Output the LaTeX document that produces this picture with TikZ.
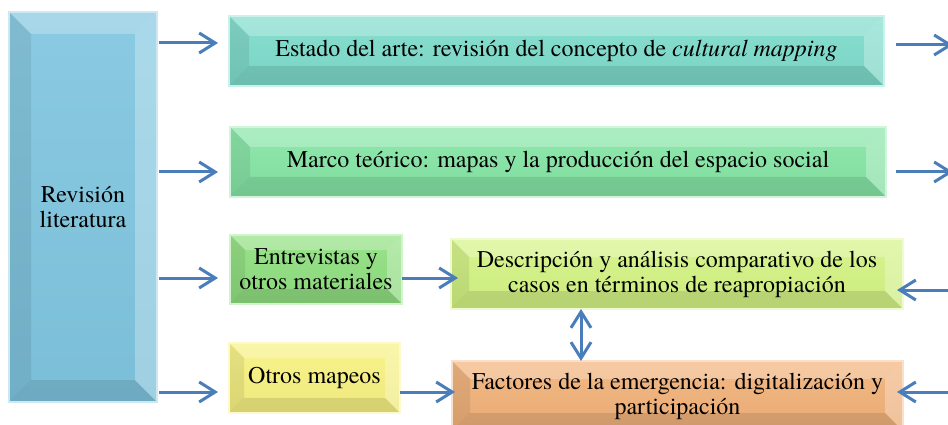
\documentclass[tikz,border=0pt]{standalone}
\usepackage{fontspec}
\setmainfont{texgyretermes}[Extension=.otf, UprightFont=*-regular, ItalicFont=*-italic, BoldFont=*-bold, BoldItalicFont=*-bolditalic]
\usetikzlibrary{arrows.meta}
\definecolor{arrowblue}{RGB}{74,126,187}
\definecolor{litblue}{RGB}{128,198,224}
\definecolor{artecyan}{RGB}{126,220,204}
\definecolor{marcogreen}{RGB}{134,230,166}
\definecolor{entregreen}{RGB}{144,224,128}
\definecolor{otrosyellow}{RGB}{248,242,130}
\definecolor{desclime}{RGB}{212,244,132}
\definecolor{factorange}{RGB}{242,178,122}

\begin{document}
\begin{tikzpicture}[x=1pt, y=-1pt,
  every node/.style={inner sep=0pt, outer sep=0pt, align=center, font=\rmfamily\fontsize{24}{25}\selectfont},
  bevelbox/.style 2 args={draw=#1!40!white, line width=2pt, top color=#1!92!white, bottom color=#1!96!black,
    path picture={
      \fill[white, opacity=.25] (path picture bounding box.north west) -- (path picture bounding box.north east)
        -- ([shift={(-#2,#2)}]path picture bounding box.north east) -- ([shift={(#2,#2)}]path picture bounding box.north west) -- cycle;
      \fill[white, opacity=.28] (path picture bounding box.north east) -- (path picture bounding box.south east)
        -- ([shift={(-#2,-#2)}]path picture bounding box.south east) -- ([shift={(-#2,#2)}]path picture bounding box.north east) -- cycle;
      \fill[black, opacity=.1] (path picture bounding box.south west) -- (path picture bounding box.south east)
        -- ([shift={(-#2,-#2)}]path picture bounding box.south east) -- ([shift={(#2,-#2)}]path picture bounding box.south west) -- cycle;
      \fill[black, opacity=.08] (path picture bounding box.north west) -- (path picture bounding box.south west)
        -- ([shift={(#2,-#2)}]path picture bounding box.south west) -- ([shift={(#2,#2)}]path picture bounding box.north west) -- cycle;
    }},
  arr/.style={draw=arrowblue, line width=3pt, -{Straight Barb[length=16pt,width=20pt]}}]
  \clip (0,0) rectangle (948,425);
  \node[bevelbox={litblue}{22}, minimum width=148, minimum height=390] (lit) at (83,207) {Revisión\\literatura};
  \node[bevelbox={artecyan}{20}, minimum width=655, minimum height=70] (arte) at (556.5,51) {Estado del arte: revisión del concepto de \textit{cultural mapping}};
  \node[bevelbox={marcogreen}{20}, minimum width=656, minimum height=70] (marco) at (558,162) {Marco teórico: mapas y la producción del espacio social};
  \node[bevelbox={entregreen}{15}, minimum width=172, minimum height=69] (entre) at (316,269.5) {Entrevistas y\\otros materiales};
  \node[bevelbox={otrosyellow}{15}, minimum width=171, minimum height=70] (otros) at (314.5,378) {Otros mapeos};
  \node[bevelbox={desclime}{18}, minimum width=452, minimum height=70] (desc) at (677,274) {Descripción y análisis comparativo de los\\casos en términos de reapropiación};
  \node[bevelbox={factorange}{18}, minimum width=451, minimum height=70] (fact) at (677.5,396) {Factores de la emergencia: digitalización y\\participación};
  \coordinate (row1) at (0,43);
  \coordinate (row2) at (0,172);
  \coordinate (row3) at (0,278);
  \coordinate (row4) at (0,392);
  \coordinate (out1) at (953,45);
  \coordinate (out2) at (953,172);
  \coordinate (in1) at (975,290);
  \coordinate (in2) at (975,392);
  \coordinate (mid) at (581,0);
  \draw[arr, shorten <=2pt, shorten >=11pt] (lit.east |- row1) -- (arte.west |- row1);
  \draw[arr, shorten <=2pt, shorten >=12pt] (lit.east |- row2) -- (marco.west |- row2);
  \draw[arr, shorten <=2pt, shorten >=12pt] (lit.east |- row3) -- (entre.west |- row3);
  \draw[arr, shorten <=2pt, shorten >=11pt] (lit.east |- row4) -- (otros.west |- row4);
  \draw[arr, shorten >=-7pt] (entre.east |- row3) -- (desc.west |- row3);
  \draw[arr, shorten >=-3pt] (otros.east |- row4) -- (fact.west |- row4);
  \draw[arr, shorten <=12pt] (arte.east |- out1) -- (out1);
  \draw[arr, shorten <=10pt] (marco.east |- out2) -- (out2);
  \draw[arr, shorten >=-6pt] (in1) -- (desc.east |- in1);
  \draw[arr, shorten >=-6pt] (in2) -- (fact.east |- in2);
  \draw[arr, {Straight Barb[length=16pt,width=20pt]}-{Straight Barb[length=16pt,width=20pt]}] (desc.south -| mid) -- (fact.north -| mid);
\end{tikzpicture}
\end{document}
